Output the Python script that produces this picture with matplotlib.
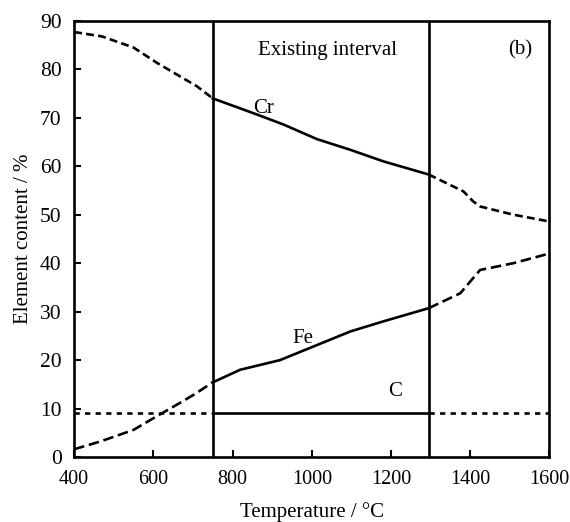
import matplotlib.pyplot as plt

# interval bounds (deg C)
t_low = 750
t_high = 1295

# Cr content
cr_temp = [400, 470, 550, 610, 710, 750, 861, 929, 1013, 1097, 1181, 1295, 1383, 1408, 1425, 1509, 1600]
cr_vals = [87.7, 86.8, 84.5, 81.3, 76.5, 74.0, 70.7, 68.6, 65.6, 63.4, 61.0, 58.3, 54.8, 52.7, 51.7, 50.0, 48.6]

# Fe content
fe_temp = [400, 466, 550, 600, 651, 701, 750, 819, 920, 1013, 1097, 1181, 1282, 1295, 1375, 1404, 1425, 1509, 1600]
fe_vals = [1.6, 3.2, 5.6, 8.0, 10.4, 12.8, 15.4, 18.0, 20.0, 23.1, 25.9, 28.0, 30.4, 30.7, 33.8, 36.6, 38.6, 40.0, 42.0]

# C content
c_temp = [400, 750, 1295, 1600]
c_vals = [9.0, 9.0, 9.0, 9.0]


def split(temps, vals):
    lo = [(t, v) for t, v in zip(temps, vals) if t <= t_low]
    mid = [(t, v) for t, v in zip(temps, vals) if t_low <= t <= t_high]
    hi = [(t, v) for t, v in zip(temps, vals) if t >= t_high]
    return [list(zip(*p)) for p in (lo, mid, hi)]


plt.rcParams['font.family'] = ['Liberation Serif', 'DejaVu Serif']

fig = plt.figure(figsize=(5.7, 5.22), dpi=100)
ax = fig.add_axes([0.130, 0.1245, 0.834, 0.8355])

for temps, vals, dash in [(cr_temp, cr_vals, (3.0, 1.6)),
                          (fe_temp, fe_vals, (4.0, 1.8))]:
    lo, mid, hi = split(temps, vals)
    ax.plot(lo[0], lo[1], color='black', lw=1.9, dashes=dash)
    ax.plot(mid[0], mid[1], color='black', lw=1.9)
    ax.plot(hi[0], hi[1], color='black', lw=1.9, dashes=dash)

lo, mid, hi = split(c_temp, c_vals)
ax.plot(lo[0], lo[1], color='black', lw=1.9, dashes=(2.0, 2.0))
ax.plot(mid[0], mid[1], color='black', lw=1.9)
ax.plot(hi[0], hi[1], color='black', lw=1.9, dashes=(2.0, 2.0))

ax.axvline(t_low, color='black', lw=1.9)
ax.axvline(t_high, color='black', lw=1.9)

ax.text(877, 71.0, 'Cr', fontsize=15, ha='center', va='baseline')
ax.text(978, 23.6, 'Fe', fontsize=15, ha='center', va='baseline')
ax.text(1211, 12.5, 'C', fontsize=15, ha='center', va='baseline')
ax.text(1039, 83.0, 'Existing interval', fontsize=15, ha='center', va='baseline')
ax.text(1526, 83.0, '(b)', fontsize=15, ha='center', va='baseline')

ax.set_xlim(400, 1600)
ax.set_ylim(0, 90)
ax.set_xticks(range(400, 1601, 200))
ax.set_yticks(range(0, 91, 10))
ax.tick_params(direction='in', length=5, width=1.5)
ax.tick_params(axis='x', labelsize=14.5, pad=9)
ax.tick_params(axis='y', labelsize=15.5, pad=9)
for s in ax.spines.values():
    s.set_linewidth(1.9)

ax.set_xlabel('Temperature / °C', fontsize=15, labelpad=10)
ax.set_ylabel('Element content / %', fontsize=15, labelpad=5)

fig.savefig('out.png', dpi=100)
